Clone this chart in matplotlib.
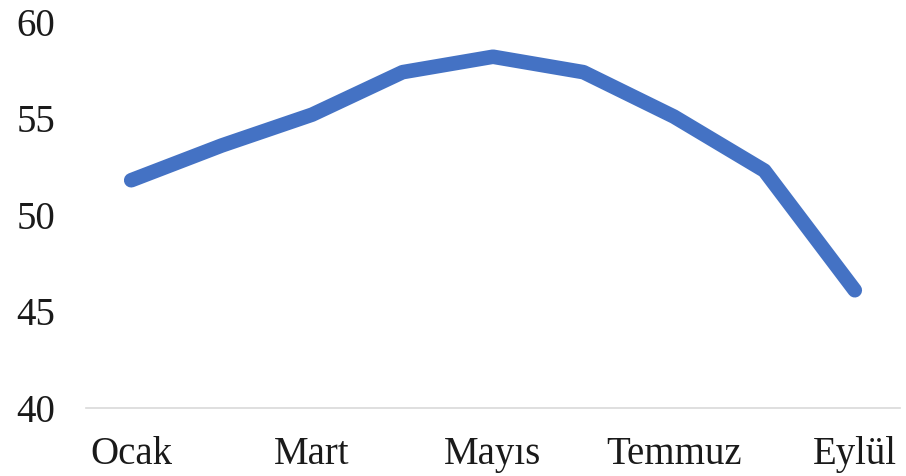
import matplotlib.pyplot as plt

months = ["Ocak", "Şubat", "Mart", "Nisan", "Mayıs", "Haziran", "Temmuz", "Ağustos", "Eylül"]
values = [51.8, 53.6, 55.2, 57.4, 58.2, 57.4, 55.1, 52.3, 46.1]
y_ticks = [40, 45, 50, 55, 60]

plt.rcParams['font.family'] = ['Liberation Serif', 'DejaVu Serif']

fig = plt.figure(figsize=(9.06, 4.76), dpi=100)
ax = fig.add_axes([0.0949, 0.1429, 0.8985, 0.8109])

x = list(range(len(months)))
ax.plot(x, values, color='#4472C4', linewidth=10.5, solid_capstyle='round', solid_joinstyle='round')

ax.set_xlim(-0.5, len(months) - 0.5)
ax.set_ylim(40, 60)
ax.set_yticks(y_ticks)
ax.set_yticklabels([str(v) for v in y_ticks])
ax.set_xticks(x[::2])
ax.set_xticklabels(months[::2])

for side in ['top', 'right', 'left']:
    ax.spines[side].set_visible(False)
ax.spines['bottom'].set_color('#D9D9D9')
ax.spines['bottom'].set_linewidth(1.2)

ax.tick_params(axis='both', length=0, labelsize=28, colors='#1a1a1a')
ax.tick_params(axis='y', pad=22)
ax.tick_params(axis='x', pad=20)

fig.savefig("out.png", dpi=100, facecolor='white')
